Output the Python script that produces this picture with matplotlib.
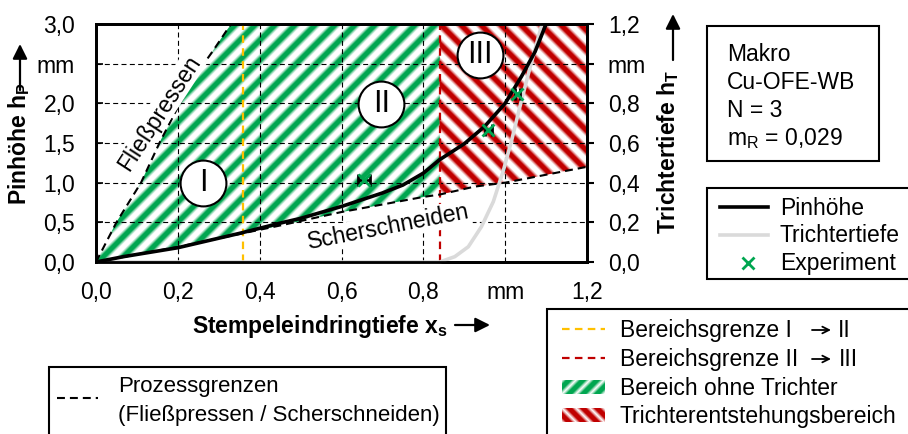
import numpy as np
import matplotlib
matplotlib.use("Agg")
import matplotlib.pyplot as plt
from matplotlib.collections import LineCollection
from matplotlib.patches import Polygon, Rectangle

plt.rcParams['font.family'] = ['Liberation Sans', 'DejaVu Sans']
plt.rcParams['font.size'] = 16.5
plt.rcParams['mathtext.fontset'] = 'custom'
plt.rcParams['mathtext.rm'] = 'Liberation Sans'
plt.rcParams['mathtext.bf'] = 'Liberation Sans:bold'

# Pinhoehe h_P (mm) ueber Stempeleindringtiefe x_s (mm)
pin_x = [0.0, 0.07, 0.2, 0.35, 0.45, 0.5, 0.6, 0.7, 0.75, 0.8, 0.84, 0.9, 0.95, 1.0, 1.04, 1.073, 1.1]
pin_y = [0.0, 0.07, 0.18, 0.36, 0.49, 0.55, 0.70, 0.87, 0.97, 1.12, 1.29, 1.49, 1.71, 2.0, 2.34, 2.65, 3.0]

# Trichtertiefe h_T (mm, rechte Achse)
tri_x = [0.0, 0.84, 0.877, 0.91, 0.942, 0.971, 0.996, 1.016, 1.036, 1.057, 1.077, 1.09]
tri_y = [0.0, 0.0, 0.027, 0.077, 0.178, 0.304, 0.464, 0.615, 0.783, 0.951, 1.103, 1.2]

# Prozessgrenzen
fp_x = [0.0, 0.05, 0.11, 0.155, 0.205, 0.25, 0.287, 0.33]
fp_y = [0.0, 0.5, 1.0, 1.5, 2.0, 2.4, 2.67, 3.0]
ss_x = [0.0, 0.2, 0.45, 0.6, 0.8, 0.84, 0.925, 1.0, 1.14, 1.2]
ss_y = [0.0, 0.19, 0.46, 0.63, 0.82, 0.85, 0.95, 1.0, 1.14, 1.2]

# Experiment
exp_x = [0.655, 0.959, 1.03]
exp_y = [1.03, 1.66, 2.12]
exp_xerr = [0.015, 0.008, 0.006]

# Bereichsgrenzen
grenze_1 = 0.36
grenze_2 = 0.84

bereich_names = ['I', 'II', 'III']
bereich_x = [0.262, 0.697, 0.938]
bereich_y = [1.0, 1.99, 2.61]

x_ticks = [0.0, 0.2, 0.4, 0.6, 0.8, 1.0, 1.2]
x_ticklabels = ['0,0', '0,2', '0,4', '0,6', '0,8', 'mm', '1,2']
y_ticks = [0.0, 0.5, 1.0, 1.5, 2.0, 2.5, 3.0]
y_ticklabels = ['0,0', '0,5', '1,0', '1,5', '2,0', 'mm', '3,0']
y2_ticks = [0.0, 0.2, 0.4, 0.6, 0.8, 1.0, 1.2]
y2_ticklabels = ['0,0', '0,2', '0,4', '0,6', '0,8', 'mm', '1,2']

GREEN = '#00A650'
RED = '#C00000'
YELLOW = '#FFC000'
GRAY = '#DADADA'

W, H = 908, 434
fig = plt.figure(figsize=(W / 100, H / 100), dpi=100)

# axes box in pixels
ax_l, ax_t, ax_w, ax_h = 96, 24, 491, 238
ax = fig.add_axes([ax_l / W, 1 - (ax_t + ax_h) / H, ax_w / W, ax_h / H])
ax2 = ax.twinx()
ax.set_xlim(0, 1.2)
ax.set_ylim(0, 3.0)
ax2.set_ylim(0, 1.2)

kx = ax_w / 1.2
ky = ax_h / 3.0


def soft_stripes(target, clip, color, segs):
    # stripes with blurred edges: wide faint line under a narrow solid one
    for lw, a in [(6.6, 0.22), (5.0, 0.5), (3.3, 1.0)]:
        lc = LineCollection(segs, colors=color, linewidths=lw, alpha=a,
                            capstyle='butt', zorder=1)
        target.add_collection(lc, autolim=False)
        lc.set_clip_path(clip)


def data_stripes(sign, period=20):
    segs = []
    for c in np.arange(-ax_h - period, ax_w + ax_h + period, period):
        x0 = c - sign * 5
        x1 = c + sign * (ax_h + 5)
        segs.append([(x0 / kx, -5 / ky), (x1 / kx, (ax_h + 5) / ky)])
    return segs


# Bereich ohne Trichter (gruen)
ss_left = [(x, y) for x, y in zip(ss_x, ss_y) if x <= grenze_2]
green_verts = list(zip(fp_x, fp_y)) + [(grenze_2, 3.0)] + ss_left[::-1]
green_poly = Polygon(green_verts, closed=True, facecolor='none', edgecolor='none')
ax.add_patch(green_poly)
soft_stripes(ax, green_poly, GREEN, data_stripes(+1))

# Trichterentstehungsbereich (rot)
ss_right = [(x, y) for x, y in zip(ss_x, ss_y) if x >= grenze_2]
red_verts = ss_right + [(1.2, 3.0), (grenze_2, 3.0)]
red_poly = Polygon(red_verts, closed=True, facecolor='none', edgecolor='none')
ax.add_patch(red_poly)
soft_stripes(ax, red_poly, RED, data_stripes(-1))

# grid
ax.set_xticks(x_ticks)
ax.set_xticklabels(x_ticklabels)
ax.set_yticks(y_ticks)
ax.set_yticklabels(y_ticklabels)
ax.grid(True, color='black', lw=0.8, dashes=(4.5, 3))
ax.tick_params(axis='y', direction='in', length=5, width=1.2, pad=15)
ax.tick_params(axis='x', length=0, pad=14)
ax2.set_yticks(y2_ticks)
ax2.set_yticklabels(y2_ticklabels)
ax2.tick_params(axis='y', direction='out', length=5, width=1.5, pad=10)
for a in (ax, ax2):
    for s in a.spines.values():
        s.set_linewidth(2.0)

# Bereichsgrenzen
ax.plot([grenze_1, grenze_1], [0, 3.0], color=YELLOW, lw=1.6, dashes=(3.4, 2.4), zorder=3)
ax.plot([grenze_2, grenze_2], [0, 3.0], color=RED, lw=1.6, dashes=(3.4, 2.4), zorder=3)

# Prozessgrenzen
ax.plot(fp_x, fp_y, color='black', lw=1.5, dashes=(3.8, 2.4), zorder=3)
ax.plot(ss_x, ss_y, color='black', lw=1.5, dashes=(3.8, 2.4), zorder=3)

ax.text(0.155, 1.88, 'Fließpressen', rotation=57, rotation_mode='anchor',
        ha='center', va='center', zorder=3.5,
        bbox=dict(facecolor='white', edgecolor='none', pad=1))
ax.text(0.715, 0.44, 'Scherschneiden', rotation=11, rotation_mode='anchor',
        ha='center', va='center', zorder=3.5,
        bbox=dict(facecolor='white', edgecolor='none', pad=1))

# Trichtertiefe (rechte Achse), ueber der unteren Achse
ax.plot(tri_x, tri_y, color=GRAY, lw=2.6, transform=ax2.transData,
        clip_on=False, zorder=4.5, solid_capstyle='butt')

# Pinhoehe
ax.plot(pin_x, pin_y, color='black', lw=2.6, zorder=5)

# Experiment
ax.errorbar(exp_x, exp_y, xerr=exp_xerr, fmt='none', ecolor='black',
            elinewidth=2, capsize=4, capthick=2, zorder=5.5)
ax.plot(exp_x, exp_y, 'x', color=GREEN, ms=9, mew=2, zorder=6)

# Bereichsnummern
for name, bx, by in zip(bereich_names, bereich_x, bereich_y):
    ax.plot(bx, by, 'o', ms=33, mfc='white', mec='black', mew=1.5, zorder=7)
    ax.text(bx, by, name, ha='center', va='center', fontsize=22, zorder=8)

# overlay in pixel coordinates for labels and boxes
ov = fig.add_axes([0, 0, 1, 1], zorder=10)
ov.set_xlim(0, W)
ov.set_ylim(H, 0)
ov.axis('off')

arrow = dict(arrowstyle='-|>', color='black', lw=1.6, mutation_scale=22,
             shrinkA=0, shrinkB=0)
ov.text(19, 144, r'Pinhöhe h$_\mathbf{P}$', rotation=90, ha='center', va='center',
        fontweight='bold')
ov.annotate('', xy=(20, 44), xytext=(20, 90), arrowprops=arrow)
ov.text(668, 152, r'Trichtertiefe h$_\mathbf{T}$', rotation=90, ha='center', va='center',
        fontweight='bold')
ov.annotate('', xy=(673, 14), xytext=(673, 60), arrowprops=arrow)
ov.text(320, 326, r'Stempeleindringtiefe x$_\mathbf{s}$', ha='center', va='center',
        fontweight='bold')
ov.annotate('', xy=(490, 325), xytext=(455, 325), arrowprops=arrow)

# Kennwerte
ov.add_patch(Rectangle((707, 26), 172, 135, fc='white', ec='black', lw=1.5))
info = ['Makro', 'Cu-OFE-WB', 'N = 3', r'm$_\mathregular{R}$ = 0,029']
for i, line in enumerate(info):
    ov.text(727, 61 + 28 * i, line, va='baseline')

# Legende Kurven
ov.add_patch(Rectangle((707, 188), 220, 91, fc='white', ec='black', lw=1.5))
ov.plot([720, 768], [207, 207], color='black', lw=2.6)
ov.text(780, 215, 'Pinhöhe', va='baseline')
ov.plot([720, 768], [235, 235], color=GRAY, lw=2.6)
ov.text(780, 242, 'Trichtertiefe', va='baseline')
ov.plot([748], [263], 'x', color=GREEN, ms=9, mew=2)
ov.text(780, 270, 'Experiment', va='baseline')

# Legende Bereiche
thin_arrow = dict(arrowstyle='->', color='black', lw=1.3, mutation_scale=12,
                  shrinkA=0, shrinkB=0)
ov.add_patch(Rectangle((547, 309), 400, 140, fc='white', ec='black', lw=1.5))
ov.plot([562, 605], [329, 329], color=YELLOW, lw=1.6, dashes=(3.4, 2.4))
ov.text(620, 337, 'Bereichsgrenze I', va='baseline')
ov.annotate('', xy=(831, 330), xytext=(812, 330), arrowprops=thin_arrow)
ov.text(838, 337, 'II', va='baseline')
ov.plot([562, 605], [358, 358], color=RED, lw=1.6, dashes=(3.4, 2.4))
ov.text(620, 366, 'Bereichsgrenze II', va='baseline')
ov.annotate('', xy=(831, 359), xytext=(812, 359), arrowprops=thin_arrow)
ov.text(839, 366, 'III', va='baseline')
for yc, color, sign, label in [(387, GREEN, 1, 'Bereich ohne Trichter'),
                               (415, RED, -1, 'Trichterentstehungsbereich')]:
    clip = Rectangle((562, yc - 7), 43, 14, fc='none', ec='none')
    ov.add_patch(clip)
    segs = []
    for c in np.arange(548, 620, 14):
        segs.append([(c - sign * 10, yc + 10), (c + sign * 10, yc - 10)])
    soft_stripes(ov, clip, color, segs)
    ov.text(620, yc + 8, label, va='baseline')

# Legende Prozessgrenzen
ov.add_patch(Rectangle((49, 367), 397, 100, fc='white', ec='black', lw=1.5))
ov.plot([57, 98], [398, 398], color='black', lw=1.5, dashes=(3.8, 2.4))
ov.text(118, 392, 'Prozessgrenzen', va='baseline', fontsize=16)
ov.text(118, 421, '(Fließpressen / Scherschneiden)', va='baseline', fontsize=16)

fig.savefig('out.png', dpi=100)
